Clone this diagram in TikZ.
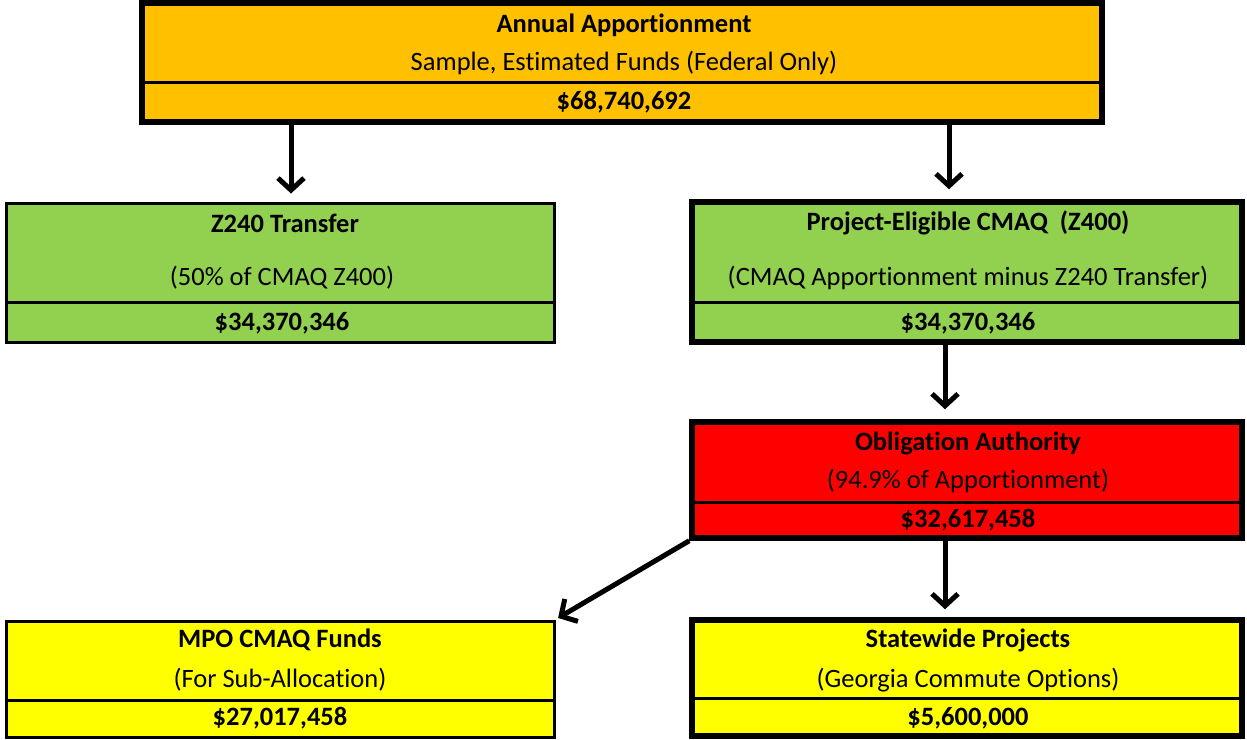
\documentclass[tikz,border=0pt]{standalone}
\usepackage{fontspec}
\setmainfont{Carlito}[Ligatures={NoCommon,NoRare}]
\usetikzlibrary{arrows.meta}
\definecolor{cOrange}{HTML}{FFC000}
\definecolor{cGreen}{HTML}{92D050}
\definecolor{cRed}{HTML}{FF0000}
\definecolor{cYellow}{HTML}{FFFF00}
\tikzset{
  boxthick/.style={draw=black, line width=5.5pt, rectangle, inner sep=0pt},
  boxthin/.style={draw=black, line width=3pt, rectangle, inner sep=0pt},
  divider/.style={draw=black, line width=3pt},
  arr/.style={draw=black, line width=5pt, -{Straight Barb[length=12pt,width=26pt]}},
  ttl/.style={font=\fontsize{26.5}{30}\selectfont\bfseries, inner sep=0pt},
  sub/.style={font=\fontsize{26.5}{30}\selectfont, inner sep=0pt},
  amt/.style={font=\fontsize{26.5}{30}\selectfont\bfseries, inner sep=0pt},
}
\begin{document}
\begin{tikzpicture}[x=1pt,y=-1pt]
\useasboundingbox (0,0) rectangle (1247,739);
% boxes
\node[boxthick, fill=cOrange, minimum width=960pt, minimum height=119pt] (A) at (622,62.5) {};
\node[boxthin, fill=cGreen, minimum width=548pt, minimum height=139pt] (B) at (280,272.5) {};
\node[boxthick, fill=cGreen, minimum width=550pt, minimum height=140pt] (C) at (967,272) {};
\node[boxthick, fill=cRed, minimum width=550pt, minimum height=116pt] (D) at (967,480) {};
\node[boxthin, fill=cYellow, minimum width=548pt, minimum height=116pt] (E) at (280,679) {};
\node[boxthick, fill=cYellow, minimum width=550pt, minimum height=116pt] (F) at (967,678) {};
% dividers
\draw[divider] (A.west |- 0,82) -- (A.east |- 0,82);
\draw[divider] (B.west |- 0,302) -- (B.east |- 0,302);
\draw[divider] (C.west |- 0,302) -- (C.east |- 0,302);
\draw[divider] (D.west |- 0,502) -- (D.east |- 0,502);
\draw[divider] (E.west |- 0,700) -- (E.east |- 0,700);
\draw[divider] (F.west |- 0,698) -- (F.east |- 0,698);
% texts
\node[ttl] (A1) at (624,25) {Annual Apportionment};
\node[sub] (A2) at (624,63) {Sample, Estimated Funds (Federal Only)};
\node[amt] (A3) at (624,102) {\$68,740,692};
\node[ttl] (B1) at (285,223) {Z240 Transfer};
\node[sub] (B2) at (282,278) {(50\% of CMAQ Z400)};
\node[amt] (B3) at (282,323) {\$34,370,346};
\node[ttl] (C1) at (968,223) {Project-Eligible CMAQ\ \ (Z400)};
\node[sub] (C2) at (968,278) {(CMAQ Apportionment minus Z240 Transfer)};
\node[amt] (C3) at (968,323) {\$34,370,346};
\node[ttl] (D1) at (968,443) {Obligation Authority};
\node[sub] (D2) at (968,481) {(94.9\% of Apportionment)};
\node[amt] (D3) at (968,520) {\$32,617,458};
\node[ttl] (E1) at (280,640) {MPO CMAQ Funds};
\node[sub] (E2) at (280,680) {(For Sub-Allocation)};
\node[amt] (E3) at (280,718) {\$27,017,458};
\node[ttl] (F1) at (968,640) {Statewide Projects};
\node[sub] (F2) at (968,680) {(Georgia Commute Options)};
\node[amt] (F3) at (968,718) {\$5,600,000};
% connectors
\coordinate (a1) at (291,0);
\coordinate (a2) at (949,0);
\coordinate (a3) at (945,0);
\draw[arr, shorten >=8pt] (A.south -| a1) -- (B.north -| a1);
\draw[arr, shorten >=10pt] (A.south -| a2) -- (C.north -| a2);
\draw[arr, shorten >=10pt] (C.south -| a3) -- (D.north -| a3);
\draw[arr, shorten >=3pt] (D.south west) -- (E.north east);
\draw[arr, shorten >=8pt] (D.south -| a3) -- (F.north -| a3);
\end{tikzpicture}
\end{document}
